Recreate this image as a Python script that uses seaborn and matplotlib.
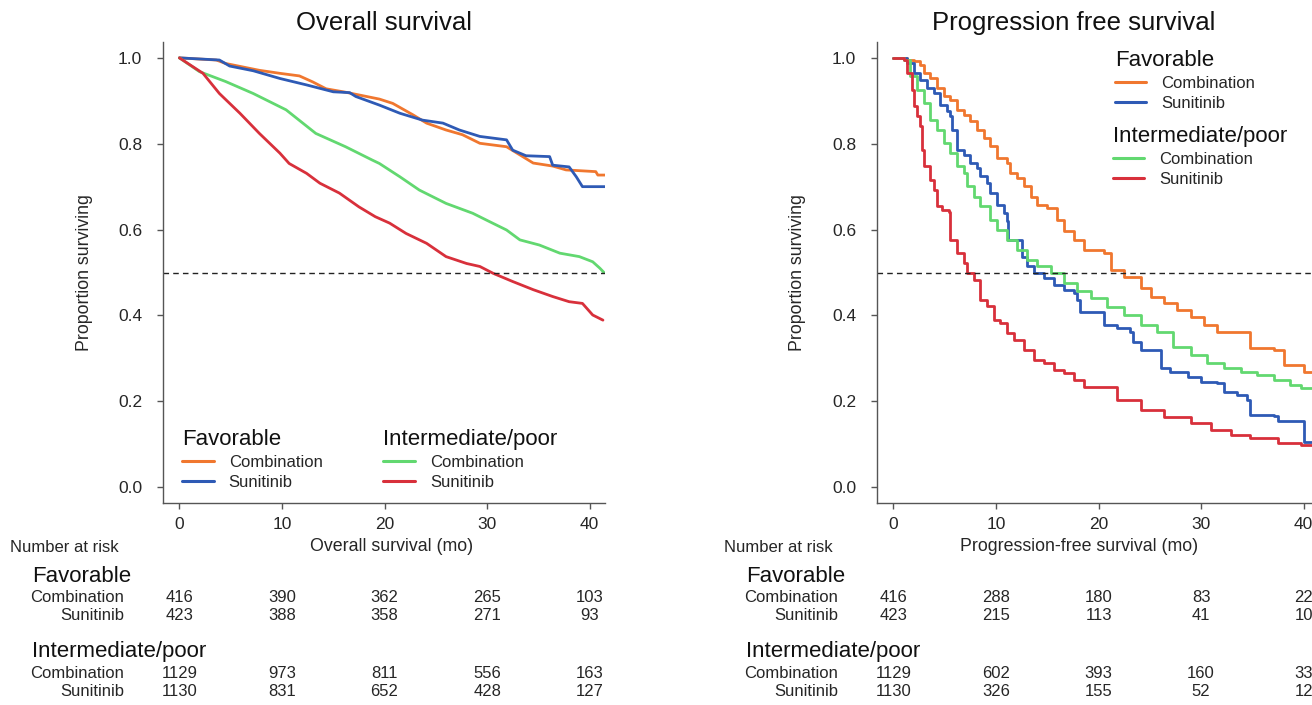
import numpy as np
import pandas as pd
import matplotlib
matplotlib.use("Agg")
import matplotlib.pyplot as plt
import seaborn as sns
from matplotlib.lines import Line2D
from matplotlib.transforms import blended_transform_factory

# --- Overall survival, Kaplan-Meier curves (months, proportion)
os_fav_combo_t = [0, 3.6, 4.5, 7.8, 9.8, 11.7, 13.0, 14.3, 16.2, 19.5, 20.8, 22.8, 24.1, 26.0, 27.6, 29.3,
                  31.9, 33.2, 34.5, 36.4, 37.7, 40.6, 40.8, 41.5]
os_fav_combo_s = [1.0, 0.995, 0.987, 0.971, 0.964, 0.958, 0.944, 0.928, 0.920, 0.904, 0.894, 0.867, 0.848,
                  0.832, 0.821, 0.801, 0.793, 0.774, 0.755, 0.748, 0.739, 0.735, 0.727, 0.727]
os_fav_sun_t = [0, 3.9, 4.9, 7.2, 9.8, 12.4, 15.0, 16.6, 17.2, 19.5, 21.5, 23.7, 25.7, 27.3, 29.3, 31.9,
                32.5, 33.8, 36.1, 36.4, 38.0, 38.7, 39.3, 41.5]
os_fav_sun_s = [1.0, 0.995, 0.981, 0.970, 0.952, 0.937, 0.921, 0.919, 0.910, 0.890, 0.871, 0.855, 0.848,
                0.832, 0.817, 0.809, 0.785, 0.772, 0.770, 0.750, 0.746, 0.723, 0.700, 0.700]
os_int_combo_t = [0, 1.95, 4.5, 7.2, 10.4, 13.3, 16.2, 18.8, 19.5, 21.5, 23.4, 26.0, 28.6, 30.2, 31.9,
                  33.2, 35.1, 37.1, 39.0, 40.3, 41.0, 41.4]
os_int_combo_s = [1.0, 0.968, 0.945, 0.917, 0.879, 0.824, 0.793, 0.762, 0.754, 0.723, 0.692, 0.661, 0.638,
                  0.619, 0.599, 0.576, 0.564, 0.545, 0.537, 0.525, 0.510, 0.500]
os_int_sun_t = [0, 2.3, 3.9, 5.9, 7.8, 9.8, 10.7, 12.4, 13.7, 15.6, 17.5, 19.1, 20.5, 22.1, 24.1, 26.0,
                28.0, 29.3, 30.6, 32.5, 34.5, 36.4, 38.0, 39.3, 40.3, 41.3]
os_int_sun_s = [1.0, 0.964, 0.917, 0.871, 0.824, 0.778, 0.754, 0.731, 0.708, 0.685, 0.653, 0.630, 0.615,
                0.591, 0.568, 0.537, 0.521, 0.514, 0.498, 0.479, 0.460, 0.444, 0.432, 0.428, 0.401, 0.389]

# --- Progression free survival
pfs_fav_combo_t = [0, 1.0, 1.33, 1.98, 2.63, 2.96, 3.61, 4.26, 4.91, 5.56, 6.21, 6.86, 7.51, 8.16, 8.81,
                   9.46, 10.11, 11.09, 11.41, 12.07, 12.72, 13.37, 14.02, 15.0, 15.97, 16.62, 17.6, 18.57,
                   20.5, 21.2, 22.5, 24.1, 25.1, 26.4, 27.7, 29.0, 30.3, 31.6, 34.8, 37.1, 38.1, 40.0, 41.5]
pfs_fav_combo_s = [1.0, 1.0, 0.996, 0.992, 0.984, 0.965, 0.953, 0.930, 0.911, 0.903, 0.879, 0.868, 0.852,
                   0.833, 0.813, 0.794, 0.767, 0.755, 0.732, 0.720, 0.701, 0.677, 0.658, 0.650, 0.623, 0.596,
                   0.576, 0.553, 0.545, 0.506, 0.490, 0.463, 0.444, 0.428, 0.413, 0.397, 0.378, 0.362, 0.323,
                   0.319, 0.284, 0.268, 0.268]
pfs_fav_sun_t = [0, 1.33, 1.98, 2.63, 3.28, 3.93, 4.59, 5.24, 5.56, 5.72, 6.21, 6.86, 7.51, 8.16, 8.49,
                 9.14, 9.46, 10.11, 10.76, 11.09, 11.15, 12.55, 13.04, 13.69, 14.67, 15.64, 16.62, 17.59,
                 17.92, 18.24, 20.5, 21.8, 23.1, 23.4, 24.1, 26.1, 27.0, 28.7, 30.0, 31.6, 32.2, 33.5, 34.5,
                 34.8, 37.1, 37.5, 40.0, 41.5]
pfs_fav_sun_s = [1.0, 0.988, 0.965, 0.949, 0.930, 0.918, 0.891, 0.876, 0.864, 0.833, 0.786, 0.774, 0.755,
                 0.743, 0.724, 0.708, 0.685, 0.658, 0.638, 0.619, 0.576, 0.537, 0.514, 0.498, 0.487, 0.471,
                 0.460, 0.452, 0.436, 0.409, 0.378, 0.370, 0.362, 0.339, 0.319, 0.277, 0.269, 0.257, 0.246,
                 0.242, 0.222, 0.214, 0.203, 0.168, 0.166, 0.153, 0.106, 0.106]
pfs_int_combo_t = [0, 1.0, 1.66, 2.31, 2.96, 3.61, 4.26, 4.91, 5.56, 6.21, 6.86, 7.19, 7.84, 8.49, 9.46,
                   10.11, 11.09, 12.07, 13.04, 14.02, 15.32, 16.62, 17.92, 19.22, 20.8, 22.5, 24.1, 25.7,
                   27.3, 29.0, 30.6, 32.2, 33.9, 35.5, 37.1, 38.7, 39.7, 41.5]
pfs_int_combo_s = [1.0, 0.996, 0.957, 0.926, 0.895, 0.856, 0.833, 0.802, 0.778, 0.747, 0.732, 0.701, 0.677,
                   0.654, 0.623, 0.600, 0.576, 0.553, 0.530, 0.514, 0.498, 0.475, 0.456, 0.440, 0.420, 0.401,
                   0.378, 0.362, 0.327, 0.308, 0.288, 0.277, 0.269, 0.261, 0.249, 0.238, 0.230, 0.230]
pfs_int_sun_t = [0, 1.0, 1.33, 1.82, 1.98, 2.31, 2.63, 2.80, 2.96, 3.61, 3.93, 4.26, 4.75, 5.40, 5.56,
                 6.21, 6.86, 7.19, 7.84, 8.49, 9.14, 9.79, 10.44, 11.09, 11.74, 12.72, 13.69, 14.67, 15.64,
                 16.62, 17.59, 18.57, 21.8, 24.1, 26.4, 29.0, 31.0, 32.9, 34.8, 37.5, 39.7, 40.9, 41.5]
pfs_int_sun_s = [1.0, 0.996, 0.965, 0.926, 0.887, 0.864, 0.841, 0.786, 0.747, 0.716, 0.693, 0.654, 0.646,
                 0.642, 0.576, 0.545, 0.522, 0.498, 0.483, 0.436, 0.421, 0.390, 0.382, 0.358, 0.343, 0.320,
                 0.296, 0.288, 0.273, 0.265, 0.250, 0.234, 0.203, 0.180, 0.164, 0.149, 0.133, 0.121, 0.114,
                 0.103, 0.098, 0.094, 0.094]

# --- Number at risk
risk_times = [0, 10, 20, 30, 40]
os_risk_fav_combo = [416, 390, 362, 265, 103]
os_risk_fav_sun = [423, 388, 358, 271, 93]
os_risk_int_combo = [1129, 973, 811, 556, 163]
os_risk_int_sun = [1130, 831, 652, 428, 127]
pfs_risk_fav_combo = [416, 288, 180, 83, 22]
pfs_risk_fav_sun = [423, 215, 113, 41, 10]
pfs_risk_int_combo = [1129, 602, 393, 160, 33]
pfs_risk_int_sun = [1130, 326, 155, 52, 12]

group_labels = ["Favorable", "Intermediate/poor"]
arm_labels = ["Combination", "Sunitinib"]
col_fav_combo = "#F0772F"
col_fav_sun = "#2E5AB5"
col_int_combo = "#62D870"
col_int_sun = "#D8303B"

sns.set_style("ticks")
plt.rcParams["font.family"] = ["Liberation Sans", "DejaVu Sans"]
TXT = "#262626"

W, H = 1312, 705
fig = plt.figure(figsize=(W / 100, H / 100), dpi=100)
ax1 = fig.add_axes([163 / W, 1 - 503 / H, 442 / W, 461 / H])
ax2 = fig.add_axes([877 / W, 1 - 503 / H, 442 / W, 461 / H])


def draw_km(ax, curves, steps):
    for t, s, c in curves:
        kw = dict(drawstyle="steps-post") if steps else {}
        sns.lineplot(x=t, y=s, ax=ax, color=c, lw=2.0, estimator=None, sort=False, **kw)
    ax.axhline(0.5, color="#222222", lw=1.0, ls=(0, (4, 3)))
    ax.set_xlim(-1.6, 41.5)
    ax.set_ylim(-0.037, 1.037)
    ax.set_xticks(risk_times)
    ax.set_yticks([0.0, 0.2, 0.4, 0.6, 0.8, 1.0])
    ax.set_yticklabels(["0.0", "0.2", "0.4", "0.6", "0.8", "1.0"])
    ax.tick_params(axis="both", direction="out", length=4, width=1, colors="#555555",
                   labelcolor=TXT, labelsize=12.5)
    ax.tick_params(axis="y", pad=11)
    ax.tick_params(axis="x", pad=6)
    sns.despine(ax=ax)
    for sp in ["left", "bottom"]:
        ax.spines[sp].set_color("#555555")
        ax.spines[sp].set_linewidth(1.0)
    ax.set_ylabel("Proportion surviving", fontsize=12.8, color=TXT)


draw_km(ax1, [(os_fav_combo_t, os_fav_combo_s, col_fav_combo),
              (os_fav_sun_t, os_fav_sun_s, col_fav_sun),
              (os_int_combo_t, os_int_combo_s, col_int_combo),
              (os_int_sun_t, os_int_sun_s, col_int_sun)], steps=False)
draw_km(ax2, [(pfs_fav_combo_t, pfs_fav_combo_s, col_fav_combo),
              (pfs_fav_sun_t, pfs_fav_sun_s, col_fav_sun),
              (pfs_int_combo_t, pfs_int_combo_s, col_int_combo),
              (pfs_int_sun_t, pfs_int_sun_s, col_int_sun)], steps=True)

ax1.set_title("Overall survival", fontsize=18.5, color="#111111", pad=9)
ax2.set_title("Progression free survival", fontsize=18.5, color="#111111", pad=9, x=0.445)
ax1.set_xlabel("Overall survival (mo)", fontsize=12.8, color=TXT)
ax2.set_xlabel("Progression-free survival (mo)", fontsize=12.8, color=TXT)
ax1.xaxis.set_label_coords(0.516, -0.095)
ax2.xaxis.set_label_coords(0.457, -0.095)
ax1.xaxis.label.set_va("center")
ax2.xaxis.label.set_va("center")
ax1.yaxis.set_label_coords(-0.158, 0.5)
ax2.yaxis.set_label_coords(-0.161, 0.5)


def km_legend(ax, title, colors, anchor):
    handles = [Line2D([], [], color=c, lw=2.2) for c in colors]
    leg = ax.legend(handles, arm_labels, title=title, loc="upper left", bbox_to_anchor=anchor,
                    frameon=False, fontsize=12, title_fontsize=16, alignment="left", borderpad=0,
                    borderaxespad=0, handlelength=1.9, handletextpad=0.9, labelspacing=0.3)
    for txt in leg.get_texts():
        txt.set_color(TXT)
    leg.get_title().set_color("#111111")
    ax.add_artist(leg)
    ax.legend_ = None  # keep only the added artist so it is not drawn twice


km_legend(ax1, group_labels[0], [col_fav_combo, col_fav_sun], (0.043, 0.161))
km_legend(ax1, group_labels[1], [col_int_combo, col_int_sun], (0.498, 0.161))
km_legend(ax2, group_labels[0], [col_fav_combo, col_fav_sun], (0.538, 0.983))
km_legend(ax2, group_labels[1], [col_int_combo, col_int_sun], (0.533, 0.818))


def risk_table(ax, rows):
    tr_num = blended_transform_factory(ax.transData, fig.transFigure)
    tr_lab = blended_transform_factory(ax.transAxes, fig.transFigure)
    fy = lambda px: 1 - px / H
    ax.text(-0.346, fy(547), "Number at risk", transform=tr_lab, fontsize=12, color=TXT,
            ha="left", va="center")
    ax.text(-0.296, fy(577), group_labels[0], transform=tr_lab, fontsize=16, color="#111111",
            ha="left", va="center")
    ax.text(-0.296, fy(652), group_labels[1], transform=tr_lab, fontsize=16, color="#111111",
            ha="left", va="center")
    for ypx, lab, vals in rows:
        ax.text(-0.088, fy(ypx), lab, transform=tr_lab, fontsize=12, color=TXT, ha="right", va="center")
        for t, v in zip(risk_times, vals):
            ax.text(t, fy(ypx), str(v), transform=tr_num, fontsize=12, color=TXT, ha="center", va="center")


risk_table(ax1, [(598, arm_labels[0], os_risk_fav_combo), (616, arm_labels[1], os_risk_fav_sun),
                 (673, arm_labels[0], os_risk_int_combo), (692, arm_labels[1], os_risk_int_sun)])
risk_table(ax2, [(598, arm_labels[0], pfs_risk_fav_combo), (616, arm_labels[1], pfs_risk_fav_sun),
                 (673, arm_labels[0], pfs_risk_int_combo), (692, arm_labels[1], pfs_risk_int_sun)])

fig.savefig("out.png", dpi=100)
